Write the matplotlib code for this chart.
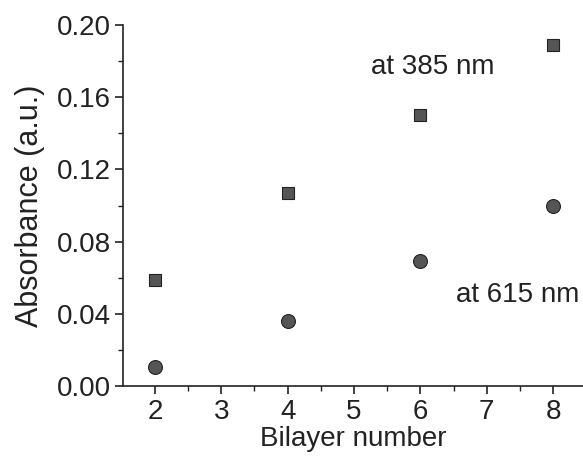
import matplotlib
matplotlib.use("Agg")
import matplotlib.pyplot as plt
from matplotlib.ticker import MultipleLocator, FormatStrFormatter

plt.rcParams['font.family'] = ['Liberation Sans', 'DejaVu Sans']

bilayers = [2, 4, 6, 8]
abs_385 = [0.059, 0.107, 0.150, 0.189]
abs_615 = [0.0105, 0.036, 0.069, 0.100]

fig = plt.figure(figsize=(5.83, 4.59), dpi=100)
ax = fig.add_axes([0.211, 0.159, 0.789, 0.7865])

ax.plot(bilayers, abs_385, linestyle='none', marker='s', markersize=8.5,
        markerfacecolor='#555555', markeredgecolor='#222222', markeredgewidth=0.8, clip_on=False)
ax.plot(bilayers, abs_615, linestyle='none', marker='o', markersize=10,
        markerfacecolor='#555555', markeredgecolor='#222222', markeredgewidth=0.8, clip_on=False)

ax.set_xlim(1.52, 8.45)
ax.set_ylim(0, 0.20)
ax.xaxis.set_major_locator(MultipleLocator(1))
ax.xaxis.set_minor_locator(MultipleLocator(0.5))
ax.yaxis.set_major_locator(MultipleLocator(0.04))
ax.yaxis.set_minor_locator(MultipleLocator(0.02))
ax.yaxis.set_major_formatter(FormatStrFormatter('%.2f'))

for s in ['top', 'right']:
    ax.spines[s].set_visible(False)
for s in ['left', 'bottom']:
    ax.spines[s].set_linewidth(1.2)
    ax.spines[s].set_color('#222222')

ax.tick_params(which='major', direction='out', length=6, width=1.2, labelsize=20, colors='#222222', pad=3)
ax.tick_params(which='minor', direction='out', length=3.5, width=1.0, colors='#222222')

ax.set_xlabel('Bilayer number', fontsize=20, color='#222222', labelpad=1)
ax.set_ylabel('Absorbance (a.u.)', fontsize=22, color='#222222', labelpad=8)

ax.text(5.26, 0.1765, 'at 385 nm', fontsize=20, color='#222222', va='center', ha='left')
ax.text(6.53, 0.0505, 'at 615 nm', fontsize=20, color='#222222', va='center', ha='left')

fig.savefig('out.png', dpi=100)
